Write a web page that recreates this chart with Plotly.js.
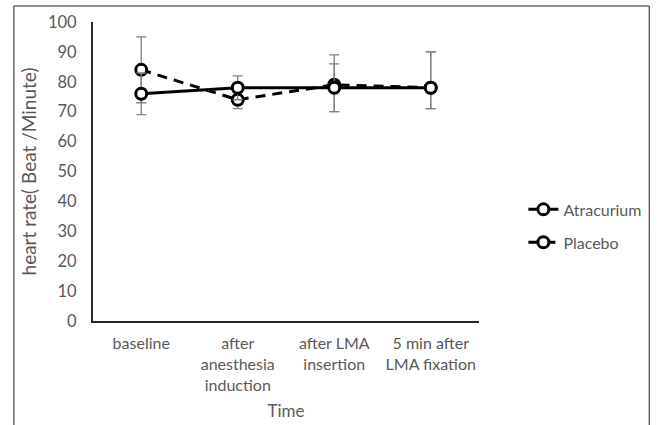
<!DOCTYPE html>
<html>
<head>
<meta charset="utf-8">
<script src="https://cdn.plot.ly/plotly-3.0.1.min.js"></script>
<style>html,body{margin:0;padding:0;background:#fff;}#chart{width:659px;height:425px;}</style>
</head>
<body>
<div id="chart"></div>
<script>
var categories = ["baseline", "after<br>anesthesia<br>induction", "after LMA<br>insertion", "5 min after<br>LMA fixation"];
var atracurium = [76, 78, 78, 78];
var placebo = [84, 74, 79, 78];
var atracuriumErrPlus = [7, 4, 8, 12];
var atracuriumErrMinus = [7, 4, 8, 7];
var placeboErrPlus = [11, 3, 10, 12];
var placeboErrMinus = [11, 3, 9, 7];
var yTicks = [0, 10, 20, 30, 40, 50, 60, 70, 80, 90, 100];

var FONT = "Lato, 'Open Sans', sans-serif";
var xIdx = categories.map(function (c, i) { return i; });

var traces = [
  {
    x: xIdx, y: placebo, name: "Placebo", type: "scatter", mode: "lines+markers",
    legend: "legend2",
    line: {color: "#000", width: 3, dash: "10px,7px"},
    marker: {symbol: "circle", size: 11, color: "#fff", line: {color: "#000", width: 3}},
    error_y: {type: "data", symmetric: false, array: placeboErrPlus, arrayminus: placeboErrMinus,
      color: "#7f7f7f", thickness: 1.3, width: 5}
  },
  {
    x: xIdx, y: atracurium, name: "Atracurium", type: "scatter", mode: "lines+markers",
    legend: "legend",
    line: {color: "#000", width: 3},
    marker: {symbol: "circle", size: 11, color: "#fff", line: {color: "#000", width: 3}},
    error_y: {type: "data", symmetric: false, array: atracuriumErrPlus, arrayminus: atracuriumErrMinus,
      color: "#7f7f7f", thickness: 1.3, width: 5}
  }
];

var layout = {
  width: 659, height: 425,
  margin: {l: 93, r: 176, t: 22, b: 104},
  paper_bgcolor: "#fff", plot_bgcolor: "#fff",
  font: {family: FONT, size: 16, color: "#595959"},
  showlegend: true,
  xaxis: {
    range: [-0.5, 3.5], tickmode: "array", tickvals: xIdx, ticktext: categories,
    showgrid: false, zeroline: false, showline: true, linecolor: "#262626", linewidth: 2,
    ticks: "", ticklabelstandoff: 7, fixedrange: true,
    tickfont: {family: FONT, size: 16, color: "#595959"},
    title: {text: "Time", font: {family: FONT, size: 17, color: "#595959"}, standoff: 12}
  },
  yaxis: {
    range: [0, 100], tickmode: "array", tickvals: yTicks,
    showgrid: false, zeroline: false, showline: true, linecolor: "#262626", linewidth: 2,
    ticks: "", ticklabelstandoff: 11, fixedrange: true,
    tickfont: {family: FONT, size: 16.5, color: "#595959"},
    title: {text: "heart rate( Beat /Minute)", font: {family: FONT, size: 19, color: "#595959"}, standoff: 6}
  },
  legend: {x: 1.115, y: 0.373, xanchor: "left", yanchor: "middle", bgcolor: "rgba(0,0,0,0)",
    font: {family: FONT, size: 16, color: "#595959"}},
  legend2: {x: 1.115, y: 0.263, xanchor: "left", yanchor: "middle", bgcolor: "rgba(0,0,0,0)",
    font: {family: FONT, size: 16, color: "#595959"}},
  shapes: [
    {type: "line", xref: "paper", yref: "paper", x0: -0.205, x1: 1.441, y0: 1.0535, y1: 1.0535, line: {color: "#222", width: 1}},
    {type: "line", xref: "paper", yref: "paper", x0: -0.205, x1: -0.205, y0: 1.0535, y1: -0.4, line: {color: "#222", width: 1}},
    {type: "line", xref: "paper", yref: "paper", x0: 1.441, x1: 1.441, y0: 1.0535, y1: -0.4, line: {color: "#222", width: 1}}
  ]
};

Plotly.newPlot("chart", traces, layout, {displayModeBar: false, staticPlot: true});
</script>
</body>
</html>
